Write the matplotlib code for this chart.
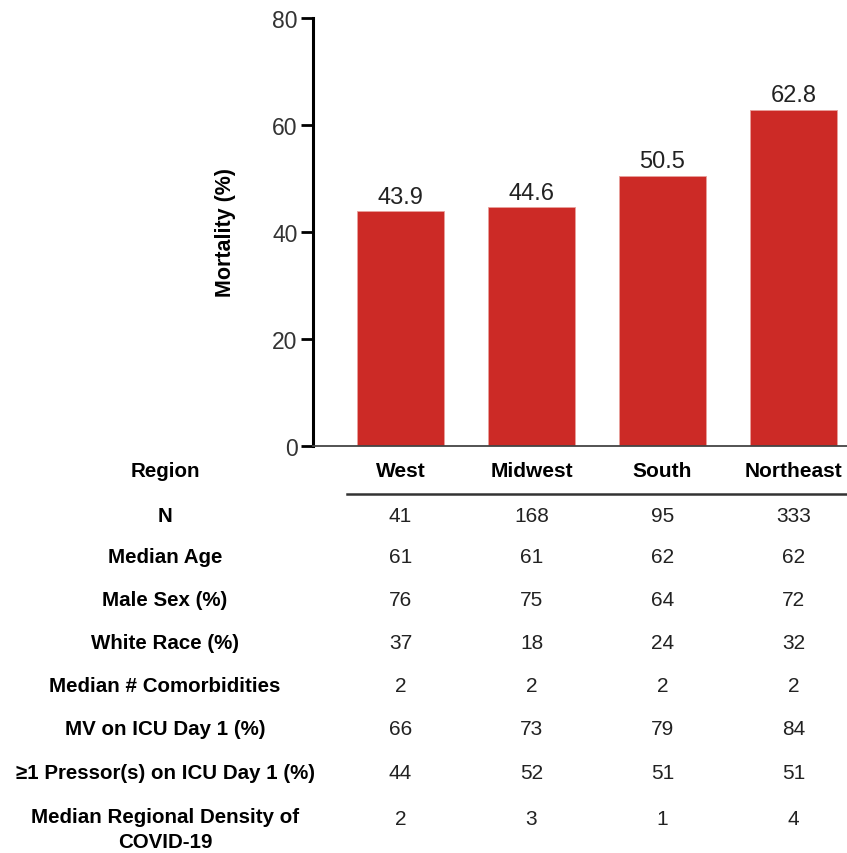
import numpy as np
import matplotlib
matplotlib.use('Agg')
import matplotlib.pyplot as plt
from matplotlib.transforms import blended_transform_factory

plt.rcParams['font.family'] = ['Liberation Sans', 'DejaVu Sans']

# Mortality by region
regions = ['West', 'Midwest', 'South', 'Northeast']
mortality = [43.9, 44.6, 50.5, 62.8]

# Baseline characteristics table
row_labels = ['N', 'Median Age', 'Male Sex (%)', 'White Race (%)',
              'Median # Comorbidities', 'MV on ICU Day 1 (%)',
              '\u22651 Pressor(s) on ICU Day 1 (%)',
              'Median Regional Density of\nCOVID-19']
n_patients = [41, 168, 95, 333]
median_age = [61, 61, 62, 62]
male_sex = [76, 75, 64, 72]
white_race = [37, 18, 24, 32]
comorbidities = [2, 2, 2, 2]
mv_day1 = [66, 73, 79, 84]
pressor_day1 = [44, 52, 51, 51]
covid_density = [2, 3, 1, 4]
table_rows = [n_patients, median_age, male_sex, white_race,
              comorbidities, mv_day1, pressor_day1, covid_density]

W, H = 847, 854
fig = plt.figure(figsize=(W / 100, H / 100), dpi=100)
ax = fig.add_axes([313 / W, 1 - 447 / H, 1 - 313 / W, (447 - 18.5) / H])

x = np.arange(len(regions))
bars = ax.bar(x, mortality, width=0.664, color='#cc2a26', edgecolor='#e8a09c', linewidth=0.6)
for b, v in zip(bars, mortality):
    ax.text(b.get_x() + b.get_width() / 2, v + 0.6, f'{v}', ha='center', va='bottom',
            fontsize=17, color='#222222')

ax.set_xlim(-0.668, 3.408)
ax.set_ylim(0, 80)
ax.set_yticks([0, 20, 40, 60, 80])
ax.set_xticks([])
ax.spines['top'].set_visible(False)
ax.spines['right'].set_visible(False)
ax.spines['left'].set_linewidth(2.2)
ax.spines['left'].set_color('black')
ax.spines['bottom'].set_linewidth(1.3)
ax.spines['bottom'].set_color('#444444')
ax.tick_params(axis='y', length=9, width=2, labelsize=16.5, labelcolor='#333333', pad=2)
ax.set_ylabel('Mortality (%)', fontsize=15.5, fontweight='bold', labelpad=26)

# table under the bars: columns follow the bar positions
tr = blended_transform_factory(ax.transData, fig.transFigure)

def fy(py):
    return 1 - py / H

label_x = 165 / W
fig.text(label_x, fy(472), 'Region', ha='center', va='center', fontsize=14.8, fontweight='bold')
for xi, r in zip(x, regions):
    ax.text(xi, fy(472), r, transform=tr, ha='center', va='center', fontsize=15, fontweight='bold')

fig.add_artist(plt.Line2D([347 / W, 1.0], [fy(495), fy(495)], transform=fig.transFigure,
                          color='#333333', linewidth=1.8))

row_y = [517, 558, 601, 644, 687, 730, 774, 830]
val_y = [517, 558, 601, 644, 687, 730, 774, 820]
for lab, vals, ly, vy in zip(row_labels, table_rows, row_y, val_y):
    fig.text(label_x, fy(ly), lab, ha='center', va='center', fontsize=14.8, fontweight='bold',
             linespacing=1.35)
    for xi, v in zip(x, vals):
        ax.text(xi, fy(vy), str(v), transform=tr, ha='center', va='center', fontsize=15,
                color='#222222')

fig.savefig('out.png', dpi=100)
